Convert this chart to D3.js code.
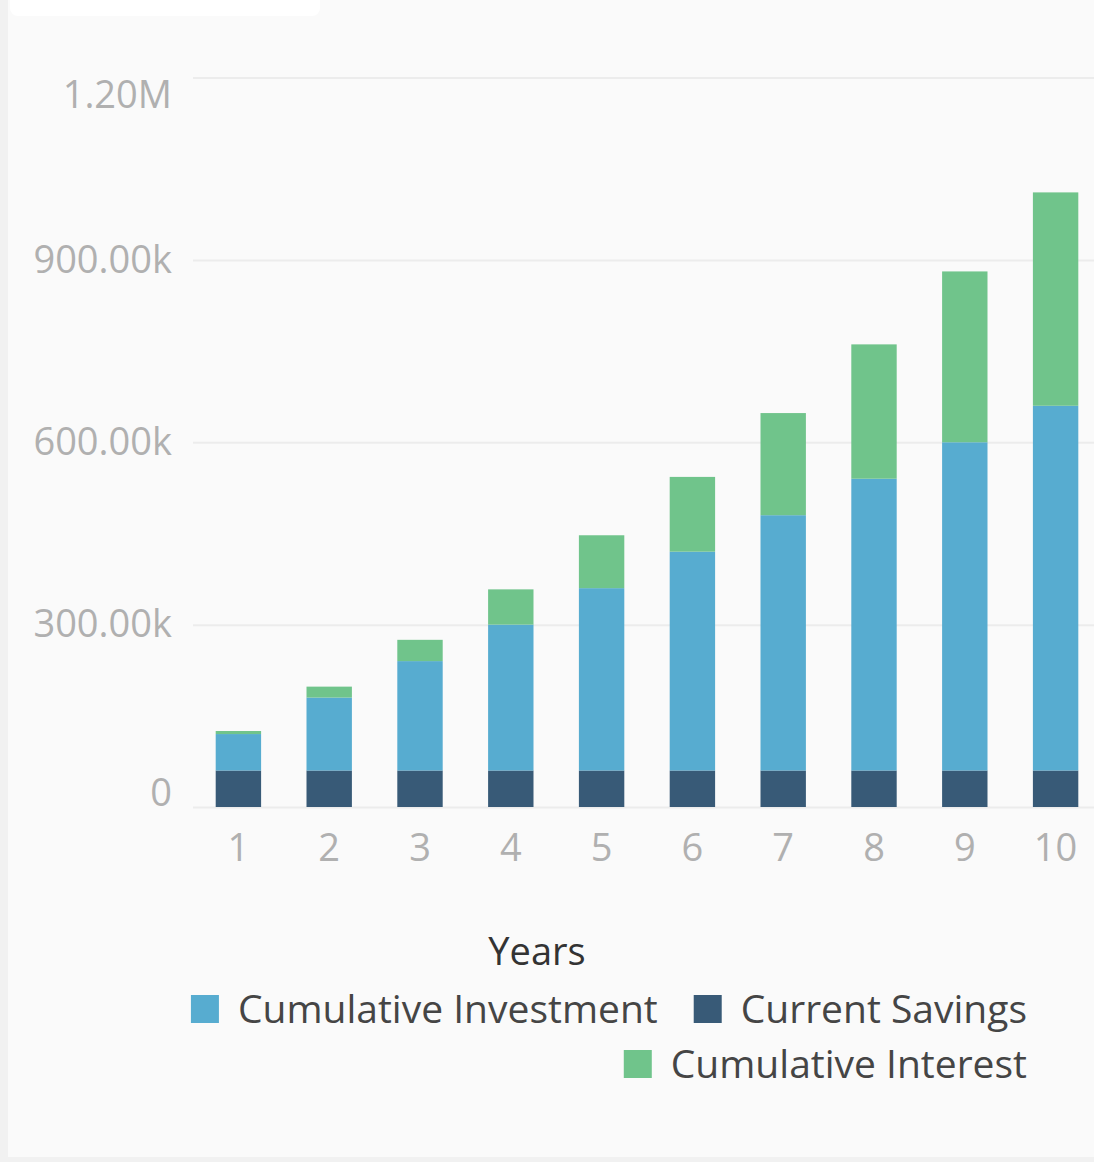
<!DOCTYPE html>
<html>
<head>
<meta charset="utf-8">
<script src="https://cdn.jsdelivr.net/npm/d3@7"></script>
<style>
  html, body { margin: 0; padding: 0; background: #fafafa; }
  svg { display: block; font-family: "Open Sans", "Noto Sans", sans-serif; }
</style>
</head>
<body>
<div id="chart"></div>
<script>
// data (values in currency units)
const years = ["1", "2", "3", "4", "5", "6", "7", "8", "9", "10"];
const currentSavings = [60000, 60000, 60000, 60000, 60000, 60000, 60000, 60000, 60000, 60000];
const cumulativeInvestment = [60000, 120000, 180000, 240000, 300000, 360000, 420000, 480000, 540000, 600000];
const cumulativeInterest = [5000, 18000, 35000, 58000, 87000, 123000, 168000, 221000, 281000, 351000];
const yTicks = [0, 300000, 600000, 900000, 1200000];
const seriesNames = ["Current Savings", "Cumulative Investment", "Cumulative Interest"];
const legendOrder = ["Cumulative Investment", "Current Savings", "Cumulative Interest"];

const width = 1094, height = 1162;
const font = "'Open Sans', 'Noto Sans', sans-serif";
const colors = {
    "Current Savings": "#385a77",
    "Cumulative Investment": "#57acd0",
    "Cumulative Interest": "#70c48b"
};

const svg = d3.select("#chart").append("svg")
    .attr("width", width)
    .attr("height", height);

// page frame bits
svg.append("rect").attr("x", 0).attr("y", 0).attr("width", width).attr("height", height).attr("fill", "#fafafa");
svg.append("rect").attr("x", 0).attr("y", 0).attr("width", 8).attr("height", height).attr("fill", "#f1f1f1");
svg.append("rect").attr("x", 0).attr("y", 1157).attr("width", width).attr("height", 5).attr("fill", "#f1f1f1");
svg.append("rect").attr("x", 10).attr("y", -10).attr("width", 310).attr("height", 26).attr("rx", 8).attr("fill", "#ffffff");

const table = years.map((y, i) => ({
    year: y,
    "Current Savings": currentSavings[i],
    "Cumulative Investment": cumulativeInvestment[i],
    "Cumulative Interest": cumulativeInterest[i]
}));
const stacked = d3.stack().keys(seriesNames)(table);

const x = d3.scaleBand()
    .domain(years)
    .range([193, 1101])
    .paddingInner(0.5)
    .paddingOuter(0.25);

const y = d3.scaleLinear()
    .domain([0, 1200000])
    .range([807, 77.5]);

const fmt = v => v === 0 ? "0" : v >= 1e6 ? (v / 1e6).toFixed(2) + "M" : (v / 1e3).toFixed(2) + "k";

// y axis with gridlines
const yAxis = svg.append("g")
    .attr("transform", "translate(193,0)")
    .call(d3.axisLeft(y).tickValues(yTicks).tickFormat(fmt).tickSize(-(width - 193)).tickPadding(21));
yAxis.attr("font-family", font);
yAxis.select(".domain").remove();
yAxis.selectAll(".tick line").attr("stroke", "#ececec").attr("stroke-width", 2);
yAxis.selectAll(".tick text")
    .attr("fill", "#b0b0b0")
    .style("font-size", "38px")
    // the end labels are kept inside the plot, as the original does
    .attr("dy", d => d === 1200000 ? "0.8em" : d === 0 ? "-0.05em" : "0.32em");

// bars
svg.append("g").selectAll("g")
    .data(stacked)
    .join("g")
    .attr("fill", d => colors[d.key])
    .selectAll("rect")
    .data(d => d)
    .join("rect")
    .attr("x", d => x(d.data.year))
    .attr("width", x.bandwidth())
    .attr("y", d => y(d[1]))
    .attr("height", d => y(d[0]) - y(d[1]));

// x axis
const xAxis = svg.append("g")
    .attr("transform", "translate(0,807)")
    .call(d3.axisBottom(x).tickSize(0).tickPadding(27));
xAxis.attr("font-family", font);
xAxis.select(".domain").remove();
xAxis.selectAll(".tick text")
    .attr("fill", "#b0b0b0")
    .style("font-size", "38px");

// axis title
svg.append("text")
    .attr("x", 537)
    .attr("y", 965)
    .attr("text-anchor", "middle")
    .attr("fill", "#333")
    .style("font-size", "38px")
    .text("Years");

// legend, wrapped into two rows and right aligned
const legend = svg.append("g");
const items = legend.selectAll("g")
    .data(legendOrder)
    .join("g");
items.append("rect")
    .attr("width", 28)
    .attr("height", 28)
    .attr("y", -14)
    .attr("fill", d => colors[d]);
items.append("text")
    .attr("x", 47)
    .attr("y", 0)
    .attr("dy", "0.35em")
    .attr("fill", "#454545")
    .style("font-size", "39px")
    .text(d => d);

const widths = [];
items.each(function () { widths.push(47 + this.querySelector("text").getComputedTextLength()); });
const gap = 36;
const rightEdge = 1027;
const row1Start = rightEdge - (widths[0] + gap + widths[1]);
items.attr("transform", (d, i) => {
    if (i === 0) return `translate(${row1Start},1009)`;
    if (i === 1) return `translate(${row1Start + widths[0] + gap},1009)`;
    return `translate(${rightEdge - widths[2]},1064)`;
});
</script>
</body>
</html>
